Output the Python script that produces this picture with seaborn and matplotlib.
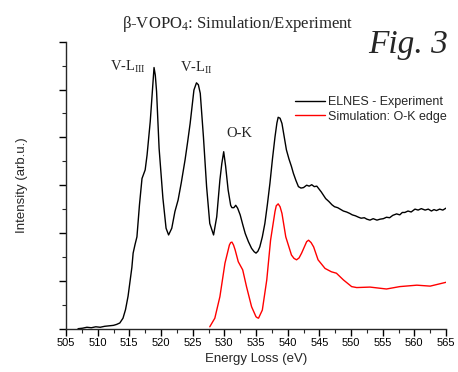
import numpy as np
import pandas as pd
import seaborn as sns
import matplotlib
matplotlib.use("Agg")
import matplotlib.pyplot as plt
from matplotlib.ticker import MultipleLocator, NullFormatter

# ---- data ----
exp_energy = [506.9, 507.6, 508.3, 509.0, 509.7, 510.4, 511.1, 511.8, 512.5, 513.0, 513.5, 514.0,
              514.4, 514.8, 515.1, 515.4, 515.6, 515.9, 516.2, 516.6, 517.0, 517.5, 517.8, 518.3,
              518.7, 518.9, 519.1, 519.3, 519.7, 520.3, 520.8, 521.2, 521.7, 522.2, 522.7, 523.2,
              523.8, 524.2, 524.6, 525.2, 525.6, 525.9, 526.2, 526.7, 527.2, 527.7, 528.3, 528.8,
              529.3, 529.6, 529.9, 530.2, 530.6, 531.0, 531.2, 531.5, 531.8, 532.1, 532.5, 532.9,
              533.3, 533.8, 534.3, 534.7, 535.0, 535.3, 535.6, 536.0, 536.4, 536.8, 537.2, 537.6,
              538.0, 538.3, 538.5, 538.8, 539.1, 539.4, 539.8, 540.2, 540.6, 540.9, 541.3, 541.7,
              542.1, 542.5, 543.0, 543.4, 543.8, 544.2, 544.6, 545.0, 545.3, 545.6, 546.0, 546.5,
              547.0, 547.4, 547.9, 548.3, 548.8, 549.3, 549.8, 550.2, 550.7, 551.2, 551.6, 552.1,
              552.5, 553.0, 553.5, 554.1, 554.6, 555.1, 555.6, 556.1, 556.6, 557.2, 557.7, 558.1,
              558.5, 559.0, 559.5, 560.1, 560.6, 561.1, 561.7, 562.2, 562.7, 563.1, 563.5, 564.0,
              564.5, 565.0]
exp_intensity = [0.00, 0.01, 0.03, 0.02, 0.04, 0.03, 0.05, 0.06, 0.07, 0.09, 0.12, 0.22,
                 0.40, 0.68, 0.98, 1.28, 1.58, 1.76, 1.92, 2.59, 3.14, 3.32, 3.63, 4.33,
                 5.10, 5.46, 5.30, 4.96, 3.77, 2.73, 2.10, 1.96, 2.10, 2.45, 2.69, 3.05,
                 3.53, 3.90, 4.29, 4.99, 5.14, 5.10, 4.92, 4.01, 2.97, 2.20, 1.96, 2.34,
                 3.11, 3.45, 3.70, 3.40, 2.90, 2.58, 2.53, 2.53, 2.58, 2.52, 2.38, 2.18,
                 1.99, 1.82, 1.68, 1.61, 1.58, 1.62, 1.71, 1.92, 2.20, 2.60, 3.04, 3.55,
                 4.01, 4.30, 4.42, 4.40, 4.29, 4.05, 3.74, 3.55, 3.39, 3.25, 3.10, 2.97,
                 2.94, 2.95, 3.00, 2.98, 3.01, 2.97, 2.98, 2.91, 2.86, 2.80, 2.72, 2.66,
                 2.59, 2.55, 2.53, 2.50, 2.46, 2.44, 2.41, 2.38, 2.36, 2.33, 2.31, 2.32,
                 2.29, 2.27, 2.30, 2.27, 2.29, 2.30, 2.33, 2.32, 2.37, 2.40, 2.38, 2.43,
                 2.43, 2.46, 2.44, 2.50, 2.48, 2.51, 2.48, 2.50, 2.46, 2.49, 2.47, 2.50,
                 2.48, 2.52]

sim_energy = [527.7, 528.5, 529.3, 530.1, 530.8, 531.0, 531.2, 531.45, 531.7, 532.2, 532.9, 533.5,
              534.3, 535.0, 535.2, 535.4, 536.0, 536.7, 537.3, 538.0, 538.2, 538.5, 538.8, 539.1,
              539.7, 540.6, 541.0, 541.4, 541.8, 542.2, 542.9, 543.0, 543.3, 543.7, 544.1, 544.8,
              545.9, 546.9, 547.7, 548.8, 550.1, 550.9, 553.0, 555.6, 557.7, 560.4, 562.5, 565.0]
sim_intensity = [0.04, 0.22, 0.67, 1.37, 1.75, 1.80, 1.81, 1.75, 1.65, 1.40, 1.23, 0.88,
                 0.46, 0.25, 0.23, 0.22, 0.39, 1.02, 1.85, 2.45, 2.57, 2.61, 2.55, 2.41,
                 1.92, 1.54, 1.47, 1.44, 1.48, 1.58, 1.79, 1.82, 1.85, 1.80, 1.71, 1.44,
                 1.26, 1.19, 1.16, 1.02, 0.88, 0.86, 0.87, 0.83, 0.88, 0.91, 0.89, 0.97]

series_names = ["ELNES - Experiment", "Simulation: O-K edge"]
series_colors = ["#000000", "#ff0000"]
x_ticks = list(range(505, 566, 5))

df = pd.concat([
    pd.DataFrame({"Energy": exp_energy, "Intensity": exp_intensity, "Series": series_names[0]}),
    pd.DataFrame({"Energy": sim_energy, "Intensity": sim_intensity, "Series": series_names[1]}),
], ignore_index=True)

sns.set_style("ticks")
plt.rcParams["font.family"] = ["Liberation Sans", "DejaVu Sans"]
plt.rcParams["mathtext.fontset"] = "custom"
plt.rcParams["mathtext.rm"] = "Liberation Serif"
plt.rcParams["mathtext.it"] = "Liberation Serif:italic"

fig = plt.figure(figsize=(4.58, 3.72), dpi=100)
ax = fig.add_axes([66 / 458, 1 - 328.7 / 372, 380 / 458, 287 / 372])

sns.lineplot(data=df, x="Energy", y="Intensity", hue="Series", hue_order=series_names,
             palette=series_colors, linewidth=1.0, sort=False, estimator=None, ax=ax,
             legend=True)

ax.set_xlim(505, 565)
ax.set_ylim(0, 6)
ax.set_xticks(x_ticks)
ax.xaxis.set_minor_locator(MultipleLocator(2.5))
ax.yaxis.set_major_locator(MultipleLocator(1))
ax.yaxis.set_minor_locator(MultipleLocator(0.5))
ax.yaxis.set_major_formatter(NullFormatter())
for s in ["top", "right"]:
    ax.spines[s].set_visible(False)
for s in ["left", "bottom"]:
    ax.spines[s].set_linewidth(1.0)
ax.tick_params(axis="both", which="major", length=5, width=1.0, direction="out", labelsize=8,
               colors="black", pad=2)
ax.tick_params(axis="both", which="minor", length=3, width=0.8, direction="out")
ax.set_xlabel("Energy Loss (eV)", fontsize=9.5, labelpad=3)
ax.set_ylabel("Intensity (arb.u.)", fontsize=9.5, labelpad=20)

leg = ax.legend(loc="upper left", bbox_to_anchor=(295 / 458, 1 - 96.5 / 372),
                bbox_transform=fig.transFigure, frameon=False, fontsize=9,
                handlelength=2.4, handletextpad=0.25, labelspacing=0.18,
                borderpad=0, borderaxespad=0)

serif = ["Liberation Serif", "DejaVu Serif"]
ax.text(511.9, 5.39, r"V-L$_{\mathrm{III}}$", family=serif, fontsize=10.5, ha="left", va="baseline")
ax.text(523.0, 5.37, r"V-L$_{\mathrm{II}}$", family=serif, fontsize=10.5, ha="left", va="baseline")
ax.text(530.4, 4.01, "O-K", family=serif, fontsize=10.5, ha="left", va="baseline")

fig.text(237.5 / 458, 1 - 28 / 372, r"β-VOPO$_{\mathrm{4}}$: Simulation/Experiment",
         family=serif, fontsize=12, ha="center", va="baseline")
fig.text(368 / 458, 1 - 53 / 372, "Fig. 3", family=serif, style="italic", fontsize=24,
         ha="left", va="baseline")

fig.savefig("out.png", dpi=100)
